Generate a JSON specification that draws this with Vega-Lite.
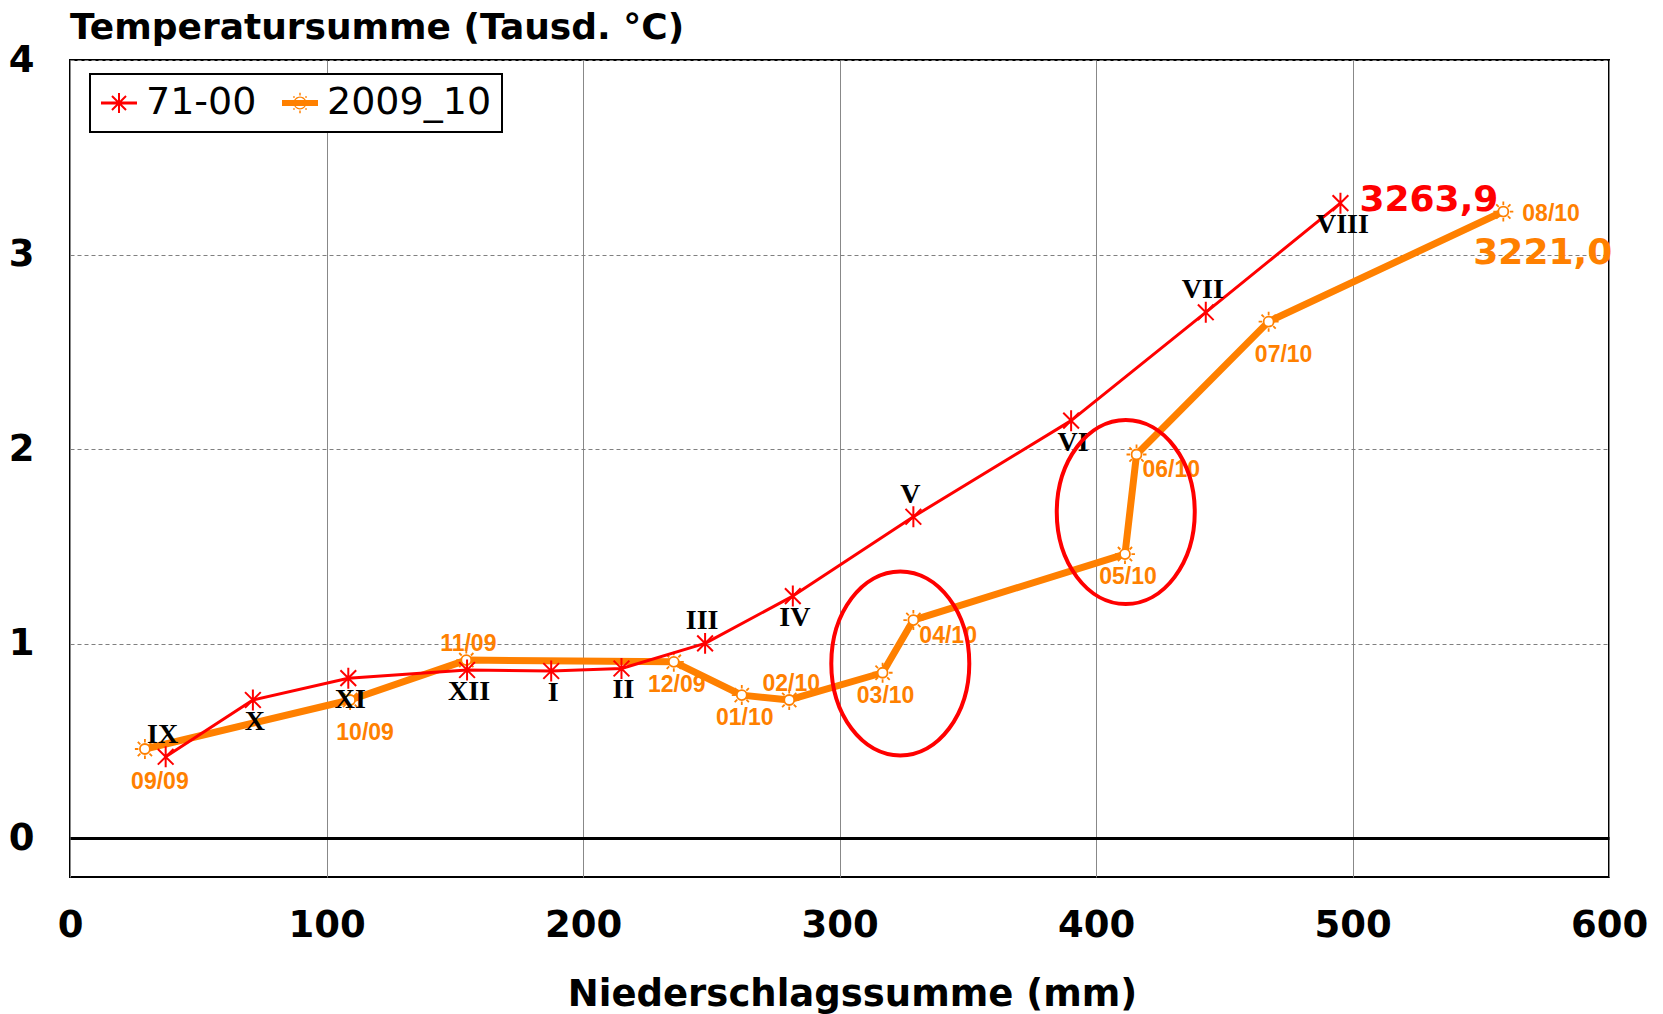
{
  "$schema": "https://vega.github.io/schema/vega-lite/v6.json",
  "width": 1539,
  "height": 817,
  "autosize": {"type": "none"},
  "padding": {"left": 70, "top": 60, "right": 54, "bottom": 137},
  "background": "white",
  "title": {"text": "Temperatursumme (Tausd. °C)", "anchor": "start", "frame": "group", "font": "DejaVu Sans", "fontSize": 36, "fontWeight": "bold", "color": "black", "offset": 8, "dy": 14},
  "config": {
    "view": {"stroke": "black", "strokeWidth": 2},
    "axisX": {"gridDash": []},
    "legend": {"strokeWidth": 2}
  },
  "datasets": {
    "main": [
      {"serie": "71-00", "label": "IX", "precip": 37.3, "temp": 0.418},
      {"serie": "71-00", "label": "X", "precip": 71.3, "temp": 0.71},
      {"serie": "71-00", "label": "XI", "precip": 108.5, "temp": 0.822},
      {"serie": "71-00", "label": "XII", "precip": 154.8, "temp": 0.864},
      {"serie": "71-00", "label": "I", "precip": 187.6, "temp": 0.859},
      {"serie": "71-00", "label": "II", "precip": 215.0, "temp": 0.872},
      {"serie": "71-00", "label": "III", "precip": 247.6, "temp": 1.001},
      {"serie": "71-00", "label": "IV", "precip": 281.8, "temp": 1.244},
      {"serie": "71-00", "label": "V", "precip": 328.8, "temp": 1.652},
      {"serie": "71-00", "label": "VI", "precip": 390.3, "temp": 2.146},
      {"serie": "71-00", "label": "VII", "precip": 442.8, "temp": 2.703},
      {"serie": "71-00", "label": "VIII", "precip": 495.3, "temp": 3.2639, "summe": "3263,9"},
      {"serie": "2009_10", "label": "09/09", "precip": 29.2, "temp": 0.458},
      {"serie": "2009_10", "label": "10/09", "precip": 109.2, "temp": 0.71},
      {"serie": "2009_10", "label": "11/09", "precip": 154.5, "temp": 0.915},
      {"serie": "2009_10", "label": "12/09", "precip": 235.4, "temp": 0.906},
      {"serie": "2009_10", "label": "01/10", "precip": 261.9, "temp": 0.735},
      {"serie": "2009_10", "label": "02/10", "precip": 280.4, "temp": 0.71},
      {"serie": "2009_10", "label": "03/10", "precip": 316.8, "temp": 0.85},
      {"serie": "2009_10", "label": "04/10", "precip": 328.8, "temp": 1.121},
      {"serie": "2009_10", "label": "05/10", "precip": 411.3, "temp": 1.46},
      {"serie": "2009_10", "label": "06/10", "precip": 415.8, "temp": 1.972},
      {"serie": "2009_10", "label": "07/10", "precip": 467.3, "temp": 2.655},
      {"serie": "2009_10", "label": "08/10", "precip": 558.8, "temp": 3.221, "summe": "3221,0"}
    ],
    "circles": [
      {"precip": 323.7, "temp": 0.898},
      {"precip": 411.6, "temp": 1.676}
    ]
  },
  "data": {"name": "main"},
  "encoding": {
    "x": {
      "field": "precip", "type": "quantitative",
      "scale": {"domain": [0, 600], "nice": false, "zero": false},
      "axis": {
        "values": [0, 100, 200, 300, 400, 500, 600],
        "title": "Niederschlagssumme (mm)",
        "grid": true, "gridColor": "#888888", "gridWidth": 1,
        "domain": false, "ticks": false, "tickSize": 0,
        "labelPadding": 30, "labelFont": "DejaVu Sans", "labelFontWeight": "bold", "labelFontSize": 37, "labelColor": "black",
        "labelFlush": false, "labelOverlap": false,
        "titleFont": "DejaVu Sans", "titleFontWeight": "bold", "titleFontSize": 37, "titleColor": "black", "titlePadding": 33, "titleX": 782
      }
    },
    "y": {
      "field": "temp", "type": "quantitative",
      "scale": {"domain": [-0.2, 4], "nice": false, "zero": false},
      "axis": {
        "values": [0, 1, 2, 3, 4],
        "title": null,
        "grid": true,
        "gridColor": {"condition": {"test": "datum.value === 0", "value": "black"}, "value": "#808080"},
        "gridWidth": {"condition": {"test": "datum.value === 0", "value": 3}, "value": 1},
        "gridDash": {"condition": {"test": "datum.value === 0", "value": []}, "value": [4, 3]},
        "domain": false, "ticks": false, "tickSize": 0,
        "labelPadding": 36, "labelFont": "DejaVu Sans", "labelFontWeight": "bold", "labelFontSize": 37, "labelColor": "black",
        "labelFlush": false, "labelOverlap": false
      }
    }
  },
  "layer": [
    {
      "transform": [{"filter": "datum.serie === '2009_10'"}],
      "mark": {"type": "line", "strokeWidth": 7, "strokeJoin": "round", "strokeCap": "round", "color": "#FF8000"}
    },
    {
      "transform": [{"filter": "datum.serie === '2009_10'"}],
      "mark": {"type": "point", "shape": "M0.5,0A0.5,0.5 0 1 1 -0.5,0A0.5,0.5 0 1 1 0.5,0ZM0,-0.65L0,-1M0,0.65L0,1M0.65,0L1,0M-0.65,0L-1,0M0.46,0.46L0.71,0.71M-0.46,0.46L-0.71,0.71M0.46,-0.46L0.71,-0.71M-0.46,-0.46L-0.71,-0.71", "size": 400, "stroke": "#FF8000", "fill": "white", "filled": false, "strokeWidth": 1.8, "opacity": 1}
    },
    {
      "transform": [{"filter": "datum.serie === '71-00'"}],
      "mark": {"type": "line", "strokeWidth": 3, "strokeJoin": "round", "strokeCap": "round", "color": "#FF0000"}
    },
    {
      "transform": [{"filter": "datum.serie === '71-00'"}],
      "mark": {"type": "point", "shape": "M0,-1L0,1M-0.75,-0.75L0.75,0.75M-0.75,0.75L0.75,-0.75", "size": 440, "stroke": "#FF0000", "filled": false, "strokeWidth": 2, "opacity": 1}
    },
    {
      "transform": [{"filter": "false"}],
      "mark": {"type": "point", "filled": true, "opacity": 1, "size": 1296},
      "encoding": {
        "color": {
          "field": "serie", "type": "nominal",
          "scale": {"domain": ["71-00", "2009_10"], "range": ["#FF0000", "#FF8000"]},
          "legend": {
            "orient": "none", "legendX": 20, "legendY": 14,
            "direction": "horizontal", "title": null,
            "padding": 10, "strokeColor": "black", "fillColor": "white",
            "labelFont": "DejaVu Sans", "labelFontSize": 38, "labelColor": "black", "labelOffset": 8, "labelLimit": 400,
            "columnPadding": 24, "symbolSize": 1296
          }
        },
        "shape": {
          "field": "serie", "type": "nominal",
          "scale": {"domain": ["71-00", "2009_10"], "range": [
            "M-1,-0.08L1,-0.08L1,0.08L-1,0.08ZM-0.055,-0.55L0.055,-0.55L0.055,0.55L-0.055,0.55ZM-0.351,-0.429L0.429,0.351L0.351,0.429L-0.429,-0.351ZM-0.429,0.351L0.351,-0.429L0.429,-0.351L-0.351,0.429Z",
            "M-1,-0.17L1,-0.17L1,0.17L-1,0.17ZM0.36,0A0.36,0.36 0 1 1 -0.36,0A0.36,0.36 0 1 1 0.36,0ZM0.29,0A0.29,0.29 0 1 0 -0.29,0A0.29,0.29 0 1 0 0.29,0ZM-0.04,-0.57L0.04,-0.57L0.04,-0.42L-0.04,-0.42ZM-0.04,0.42L0.04,0.42L0.04,0.57L-0.04,0.57ZM0.29,0.29L0.38,0.29L0.38,0.38L0.29,0.38ZM-0.38,0.29L-0.29,0.29L-0.29,0.38L-0.38,0.38ZM0.29,-0.38L0.38,-0.38L0.38,-0.29L0.29,-0.29ZM-0.38,-0.38L-0.29,-0.38L-0.29,-0.29L-0.38,-0.29Z"
          ]},
          "legend": {
            "orient": "none", "legendX": 20, "legendY": 14,
            "direction": "horizontal", "title": null,
            "padding": 10, "strokeColor": "black", "fillColor": "white",
            "labelFont": "DejaVu Sans", "labelFontSize": 38, "labelColor": "black", "labelOffset": 8, "labelLimit": 400,
            "columnPadding": 24, "symbolSize": 1296
          }
        }
      }
    },
    {
      "transform": [{"filter": {"field": "label", "oneOf": ["IX", "III", "V", "VII"]}}],
      "mark": {"type": "text", "font": "Liberation Serif", "fontWeight": "bold", "fontSize": 28, "color": "black", "baseline": "middle", "align": "center", "dx": -3, "dy": -22},
      "encoding": {"text": {"field": "label"}}
    },
    {
      "transform": [{"filter": {"field": "label", "oneOf": ["X", "XI", "XII", "I", "II", "IV", "VI", "VIII"]}}],
      "mark": {"type": "text", "font": "Liberation Serif", "fontWeight": "bold", "fontSize": 28, "color": "black", "baseline": "middle", "align": "center", "dx": 2, "dy": 22},
      "encoding": {"text": {"field": "label"}}
    },
    {
      "transform": [{"filter": {"field": "label", "oneOf": ["12/09", "01/10", "03/10", "05/10"]}}],
      "mark": {"type": "text", "font": "Liberation Sans", "fontWeight": "bold", "fontSize": 23, "color": "#FF8000", "baseline": "middle", "align": "center", "dx": 3, "dy": 23},
      "encoding": {"text": {"field": "label"}}
    },
    {
      "transform": [{"filter": {"field": "label", "oneOf": ["09/09", "10/09", "07/10"]}}],
      "mark": {"type": "text", "font": "Liberation Sans", "fontWeight": "bold", "fontSize": 23, "color": "#FF8000", "baseline": "middle", "align": "center", "dx": 15, "dy": 33},
      "encoding": {"text": {"field": "label"}}
    },
    {
      "transform": [{"filter": {"field": "label", "oneOf": ["11/09", "02/10"]}}],
      "mark": {"type": "text", "font": "Liberation Sans", "fontWeight": "bold", "fontSize": 23, "color": "#FF8000", "baseline": "middle", "align": "center", "dx": 2, "dy": -16},
      "encoding": {"text": {"field": "label"}}
    },
    {
      "transform": [{"filter": {"field": "label", "oneOf": ["04/10", "06/10"]}}],
      "mark": {"type": "text", "font": "Liberation Sans", "fontWeight": "bold", "fontSize": 23, "color": "#FF8000", "baseline": "middle", "align": "left", "dx": 6, "dy": 16},
      "encoding": {"text": {"field": "label"}}
    },
    {
      "transform": [{"filter": {"field": "label", "oneOf": ["08/10"]}}],
      "mark": {"type": "text", "font": "Liberation Sans", "fontWeight": "bold", "fontSize": 23, "color": "#FF8000", "baseline": "middle", "align": "left", "dx": 19, "dy": 2},
      "encoding": {"text": {"field": "label"}}
    },
    {
      "transform": [{"filter": {"field": "label", "oneOf": ["VIII"]}}],
      "mark": {"type": "text", "font": "DejaVu Sans", "fontWeight": "bold", "fontSize": 36, "color": "#FF0000", "baseline": "middle", "align": "left", "dx": 19, "dy": -3},
      "encoding": {"text": {"field": "summe"}}
    },
    {
      "transform": [{"filter": {"field": "label", "oneOf": ["08/10"]}}],
      "mark": {"type": "text", "font": "DejaVu Sans", "fontWeight": "bold", "fontSize": 36, "color": "#FF8000", "baseline": "middle", "align": "left", "dx": -30, "dy": 41},
      "encoding": {"text": {"field": "summe"}}
    },
    {
      "data": {"name": "circles"},
      "mark": {"type": "point", "shape": "M-0.75,0A0.75,1 0 1 1 0.75,0A0.75,1 0 1 1 -0.75,0Z", "size": 33856, "stroke": "#FF0000", "strokeWidth": 4, "filled": false, "opacity": 1}
    }
  ]
}
